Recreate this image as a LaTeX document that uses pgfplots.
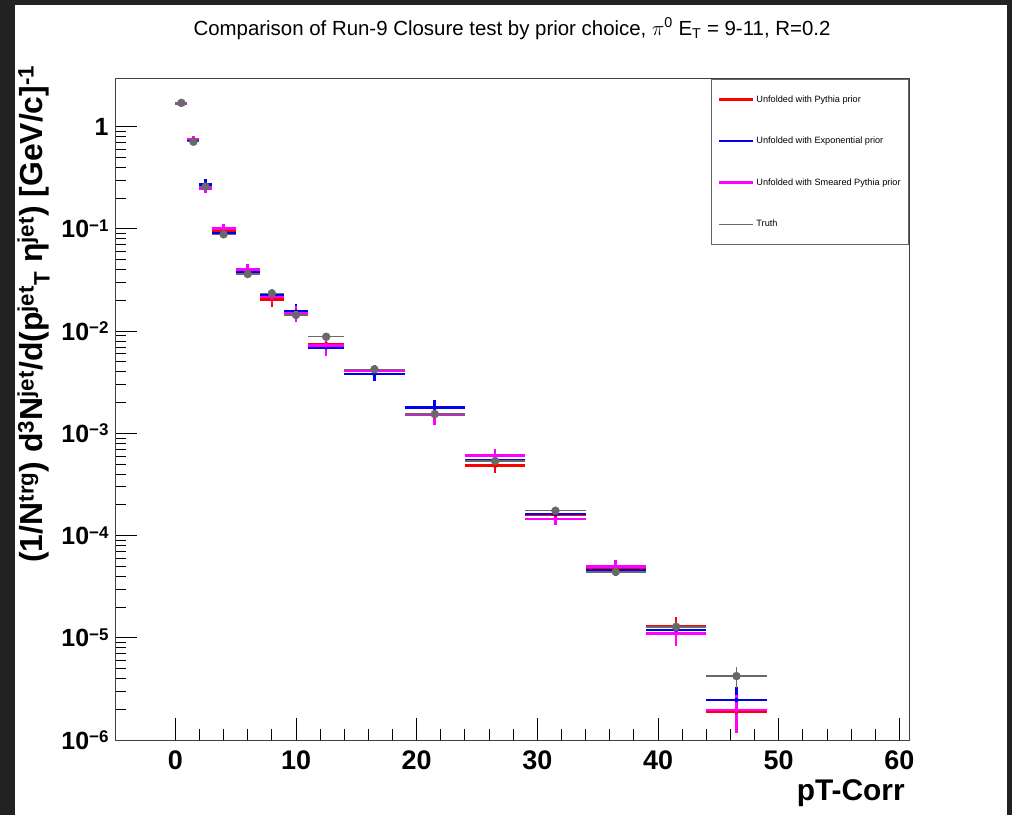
\documentclass[border=0pt]{standalone}
\usepackage{fontspec}
\setmainfont{Liberation Sans}
\usepackage{pgfplots}
\usepackage{pgfplotstable}
\pgfplotsset{compat=1.18}
\definecolor{rootRed}{RGB}{255,0,0}
\definecolor{rootBlue}{RGB}{0,0,235}
\definecolor{rootMag}{RGB}{255,0,255}
\definecolor{truthGray}{RGB}{105,105,105}
\definecolor{frameDark}{RGB}{34,34,34}
\newcommand{\tenexp}[1]{10\raisebox{6.5bp}{\fontsize{17}{17}\selectfont −#1}}

% x = bin centre, ex = half bin width, y = value, ey = error
\pgfplotstableread{
x    ex  y         ey
0.5  0.5 1.70      0.051
1.5  0.5 0.750     0.0375
2.5  0.5 0.251     0.020
4    1   0.097     0.0058
6    1   0.0387    0.0031
8    1   0.0205    0.0031
10   1   0.0150    0.0018
12.5 1.5 0.00748   0.00075
16.5 2.5 0.0041    0.00041
21.5 2.5 0.00153   0.00018
26.5 2.5 0.000482  0.000072
31.5 2.5 0.000160  0.000019
36.5 2.5 4.7e-5    5.6e-6
41.5 2.5 1.30e-5   3.0e-6
46.5 2.5 1.88e-6   0.66e-6
}\pythiatab
\pgfplotstableread{
x    ex  y         ey
0.5  0.5 1.68      0.050
1.5  0.5 0.745     0.037
2.5  0.5 0.273     0.033
4    1   0.0906    0.0054
6    1   0.0380    0.0030
8    1   0.0229    0.0032
10   1   0.0156    0.0027
12.5 1.5 0.00695   0.00104
16.5 2.5 0.0038    0.00057
21.5 2.5 0.00178   0.00034
26.5 2.5 0.000550  0.000066
31.5 2.5 0.000163  0.0000196
36.5 2.5 4.6e-5    5.5e-6
41.5 2.5 1.19e-5   1.8e-6
46.5 2.5 2.46e-6   0.86e-6
}\expotab
\pgfplotstableread{
x    ex  y         ey
0.5  0.5 1.69      0.051
1.5  0.5 0.755     0.060
2.5  0.5 0.250     0.0275
4    1   0.1014    0.0091
6    1   0.0402    0.0056
8    1   0.0216    0.0026
10   1   0.0150    0.0027
12.5 1.5 0.00728   0.0016
16.5 2.5 0.00414   0.0005
21.5 2.5 0.00152   0.0003
26.5 2.5 0.000604  0.000097
31.5 2.5 0.000145  0.0000174
36.5 2.5 4.96e-5   7.9e-6
41.5 2.5 1.10e-5   2.75e-6
46.5 2.5 1.96e-6   0.78e-6
}\smeartab
\pgfplotstableread{
x    ex  y         ey
0.5  0.5 1.71      0.034
1.5  0.5 0.713     0.014
2.5  0.5 0.259     0.0078
4    1   0.0885    0.0027
6    1   0.0362    0.0014
8    1   0.0234    0.0009
10   1   0.0144    0.0007
12.5 1.5 0.00881   0.00044
16.5 2.5 0.00423   0.00025
21.5 2.5 0.001545  0.00011
26.5 2.5 0.000536  0.000043
31.5 2.5 0.000175  0.000014
36.5 2.5 4.42e-5   4.4e-6
41.5 2.5 1.28e-5   1.5e-6
46.5 2.5 4.22e-6   0.97e-6
}\truthtab

\pgfplotsset{
  unf/.style={only marks, mark=none,
    legend image code/.code={\draw[#1, line width=2.6bp] (0bp,0bp) -- (34bp,0bp);},
    error bars/.cd, x dir=both, x explicit, y dir=both, y explicit,
    error mark=none, error bar style={line width=2.6bp, #1}},
}

\begin{document}
\begin{tikzpicture}[x=1bp, y=1bp]
\fill[frameDark] (0,0) rectangle (15,815);
\fill[frameDark] (0,810) rectangle (1012,815);
\fill[frameDark] (1007,0) rectangle (1012,815);
\begin{axis}[
  at={(115bp,75bp)}, anchor=south west,
  scale only axis, width=794bp, height=661bp,
  ymode=log, xmin=-5, xmax=60.8, ymin=1e-6, ymax=2.93,
  xtick={0,10,...,60}, minor x tick num=4,
  ytick={1e-6,1e-5,1e-4,1e-3,1e-2,1e-1,1},
  yticklabels={\tenexp{6},\tenexp{5},\tenexp{4},\tenexp{3},\tenexp{2},\tenexp{1},1},
  tick pos=left, tick align=inside,
  major tick length=22bp, minor tick length=11bp,
  every tick/.style={black, line width=0.9bp},
  axis line style={line width=1bp, black!75},
  xticklabel style={font=\bfseries\fontsize{27}{27}\selectfont, yshift=-7bp},
  yticklabel style={font=\bfseries\fontsize{25}{25}\selectfont, xshift=-3bp},
  /pgf/number format/assume math mode=true,
  title={Comparison of Run-9 Closure test by prior choice, $\pi$\textsuperscript{0} E\textsubscript{T} = 9-11, R=0.2},
  title style={at={(axis description cs:0.5,1.057)}, anchor=base, font=\fontsize{20.5}{20.5}\selectfont},
  xlabel={pT-Corr},
  xlabel style={at={(axis description cs:0.999,-0.091)}, anchor=base east, font=\bfseries\fontsize{30}{30}\selectfont},
  ylabel={(1/N\textsuperscript{trg}) d\textsuperscript{3}N\textsuperscript{jet}/d(p\textsuperscript{jet}\textsubscript{T} η\textsuperscript{jet}) [GeV/c]\textsuperscript{-1}},
  ylabel style={at={(axis description cs:-0.091,1.026)}, anchor=base east, font=\bfseries\fontsize{32}{32}\selectfont},
  legend style={at={(rel axis cs:1,1)}, anchor=north east, draw=black!60, line width=0.8bp,
    font=\fontsize{9.2}{9.2}\selectfont, row sep=29.5bp, inner xsep=6bp, inner ysep=14bp,
    cells={anchor=west}},
  legend cell align=left,
]
\addplot[rootRed, unf=rootRed]
  table[x=x, y=y, x error=ex, y error=ey] {\pythiatab};
\addlegendentry{Unfolded with Pythia prior}
\addplot[rootBlue, unf=rootBlue]
  table[x=x, y=y, x error=ex, y error=ey] {\expotab};
\addlegendentry{Unfolded with Exponential prior}
\addplot[rootMag, unf=rootMag]
  table[x=x, y=y, x error=ex, y error=ey] {\smeartab};
\addlegendentry{Unfolded with Smeared Pythia prior}
\addplot[truthGray, only marks, mark=*, mark size=4bp,
  legend image code/.code={\draw[truthGray, line width=1bp] (0bp,0bp) -- (34bp,0bp);},
  error bars/.cd, x dir=both, x explicit, y dir=both, y explicit,
  error mark=none, error bar style={line width=1.4bp, truthGray}]
  table[x=x, y=y, x error=ex, y error=ey] {\truthtab};
\addlegendentry{Truth}
\end{axis}
\pgfresetboundingbox
\path[use as bounding box] (0,0) rectangle (1012,815);
\end{tikzpicture}
\end{document}
